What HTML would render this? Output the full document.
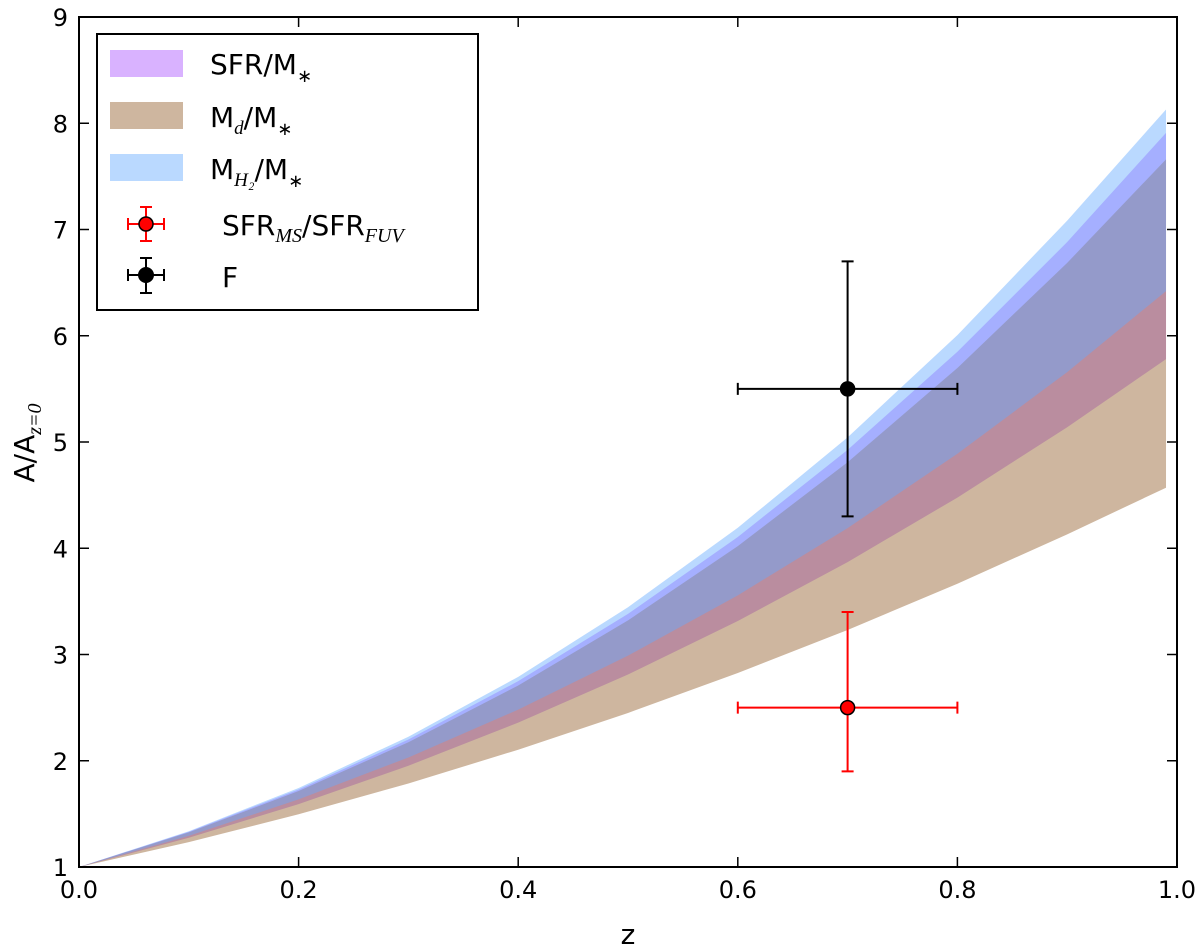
<!DOCTYPE html>
<html><head><meta charset="utf-8"><style>
body{margin:0;background:#fff}
svg text{font-family:"DejaVu Sans","Liberation Sans",sans-serif}
</style></head><body>
<svg id="chart" width="1200" height="947" xmlns="http://www.w3.org/2000/svg">
<g id="bands"></g>
<g id="points"></g>
<g id="axes"></g>
<g id="legend">
<rect x="97" y="34" width="381" height="276" fill="#fff" stroke="#000" stroke-width="2"/>
<rect x="110" y="50" width="73" height="27" fill="rgb(170,85,255)" fill-opacity="0.45"/>
<text x="210" y="74" font-size="28">SFR/M<tspan font-size="18" dy="8">∗</tspan></text>
<rect x="110" y="102" width="73" height="27" fill="rgb(150,100,50)" fill-opacity="0.47"/>
<text x="210" y="127" font-size="28">M<tspan font-size="19" dy="7" font-style="italic" font-family="Liberation Serif">d</tspan><tspan dy="-7">/M</tspan><tspan font-size="18" dy="8">∗</tspan></text>
<rect x="110" y="154" width="73" height="27" fill="rgb(102,170,255)" fill-opacity="0.45"/>
<text x="210" y="179" font-size="28">M<tspan font-size="19" dy="7" font-style="italic" font-family="Liberation Serif">H₂</tspan><tspan dy="-7">/M</tspan><tspan font-size="18" dy="8">∗</tspan></text>
<g stroke="red" stroke-width="2">
<line x1="128" y1="224" x2="164" y2="224"/><line x1="146" y1="207" x2="146" y2="241"/>
<line x1="128" y1="218" x2="128" y2="230"/><line x1="164" y1="218" x2="164" y2="230"/>
<line x1="140" y1="207" x2="152" y2="207"/><line x1="140" y1="241" x2="152" y2="241"/>
<circle cx="146" cy="224" r="7" fill="red" stroke="#000" stroke-width="1.5"/></g>
<text x="222" y="235" font-size="28">SFR<tspan font-size="20" dy="7" font-style="italic" font-family="Liberation Serif">MS</tspan><tspan dy="-7">/SFR</tspan><tspan font-size="20" dy="7" font-style="italic" font-family="Liberation Serif">FUV</tspan></text>
<g stroke="#000" stroke-width="2">
<line x1="128" y1="275" x2="164" y2="275"/><line x1="146" y1="258" x2="146" y2="293"/>
<line x1="128" y1="269" x2="128" y2="281"/><line x1="164" y1="269" x2="164" y2="281"/>
<line x1="140" y1="258" x2="152" y2="258"/><line x1="140" y1="293" x2="152" y2="293"/>
<circle cx="146" cy="275" r="7" fill="#000"/></g>
<text x="222" y="287" font-size="28">F</text>
</g>
</svg>
<script>
const zs=[0,0.1,0.2,0.3,0.4,0.5,0.6,0.7,0.8,0.9,0.99];
const h2Top=[1,1.337,1.744,2.226,2.790,3.445,4.193,5.044,6.006,7.084,8.13];
const h2Bot=[1,1.293,1.636,2.031,2.481,2.989,3.557,4.190,4.889,5.658,6.42];
const sfrTop=[1,1.332,1.729,2.200,2.749,3.382,4.106,4.926,5.849,6.882,7.91];
const sfrBot=[1,1.275,1.592,1.953,2.359,2.812,3.315,3.870,4.477,5.139,5.78];
const mdTop=[1,1.326,1.715,2.174,2.708,3.321,4.020,4.809,5.697,6.686,7.66];
const mdBot=[1,1.234,1.496,1.786,2.104,2.450,2.826,3.231,3.666,4.131,4.57];
const ptNames=['point-sfr-ratio','point-f'];
const ptZ=[0.7,0.7];const ptY=[2.5,5.5];
const ptZlo=[0.6,0.6];const ptZhi=[0.8,0.8];
const ptYlo=[1.9,4.3];const ptYhi=[3.4,6.7];
const xTicks=[0,0.2,0.4,0.6,0.8,1.0];
const yTicks=[1,2,3,4,5,6,7,8,9];
const L=79,R=1177,T=17,B=867;
const X=z=>L+(R-L)*z, Y=v=>B-(B-T)*(v-1)/8;
const NS='http://www.w3.org/2000/svg';
function mk(t,a,p){const e=document.createElementNS(NS,t);for(const k in a)e.setAttribute(k,a[k]);p.appendChild(e);return e;}
const bands=document.getElementById('bands');
function band(name,top,bot,col,op){let d='M'+zs.map((z,i)=>X(z)+','+Y(top[i])).join('L');
 for(let i=zs.length-1;i>=0;i--)d+='L'+X(zs[i])+','+Y(bot[i]);
 const p=mk('path',{d:d+'Z',fill:col,'fill-opacity':op},bands);
 
 }
band('band-sfr-mstar',sfrTop,sfrBot,'rgb(170,85,255)',0.45);
band('band-md-mstar',mdTop,mdBot,'rgb(150,100,50)',0.47);
band('band-mh2-mstar',h2Top,h2Bot,'rgb(102,170,255)',0.45);
const pts=document.getElementById('points');const cols=['red','#000'];
for(let i=0;i<ptZ.length;i++){const g=mk('g',{stroke:cols[i],'stroke-width':2},pts);
 
 
 const x=X(ptZ[i]),y=Y(ptY[i]),x0=X(ptZlo[i]),x1=X(ptZhi[i]),y0=Y(ptYlo[i]),y1=Y(ptYhi[i]);
 mk('line',{x1:x0,y1:y,x2:x1,y2:y},g);mk('line',{x1:x,y1:y0,x2:x,y2:y1},g);
 mk('line',{x1:x0,y1:y-6,x2:x0,y2:y+6},g);mk('line',{x1:x1,y1:y-6,x2:x1,y2:y+6},g);
 mk('line',{x1:x-6,y1:y0,x2:x+6,y2:y0},g);mk('line',{x1:x-6,y1:y1,x2:x+6,y2:y1},g);
 mk('circle',{cx:x,cy:y,r:7,fill:cols[i],stroke:'#000','stroke-width':1.5},g);}
const ax=document.getElementById('axes');
const fr=mk('rect',{x:L,y:T,width:R-L,height:B-T,fill:'none',stroke:'#000','stroke-width':2},ax);


xTicks.forEach(t=>{const x=X(t);mk('line',{x1:x,y1:B,x2:x,y2:B-10,stroke:'#000','stroke-width':1.5},ax);
 mk('line',{x1:x,y1:T,x2:x,y2:T+10,stroke:'#000','stroke-width':1.5},ax);
 const tx=mk('text',{x:x,y:B+31,'font-size':24,'text-anchor':'middle'},ax);tx.textContent=t.toFixed(1);
 
 });
yTicks.forEach(t=>{const y=Y(t);mk('line',{x1:L,y1:y,x2:L+10,y2:y,stroke:'#000','stroke-width':1.5},ax);
 mk('line',{x1:R,y1:y,x2:R-10,y2:y,stroke:'#000','stroke-width':1.5},ax);
 const tx=mk('text',{x:L-11,y:y+9,'font-size':24,'text-anchor':'end'},ax);tx.textContent=t;
 
 });
const xl=mk('text',{x:628,y:944,'font-size':28,'text-anchor':'middle'},ax);xl.textContent='z';


const yl=mk('text',{transform:'translate(34,443) rotate(-90)','font-size':28,'text-anchor':'middle'},ax);
yl.innerHTML='A/A<tspan font-size="20" dy="7" font-style="italic" font-family="Liberation Serif">z=0</tspan>';


</script>
</body></html>
